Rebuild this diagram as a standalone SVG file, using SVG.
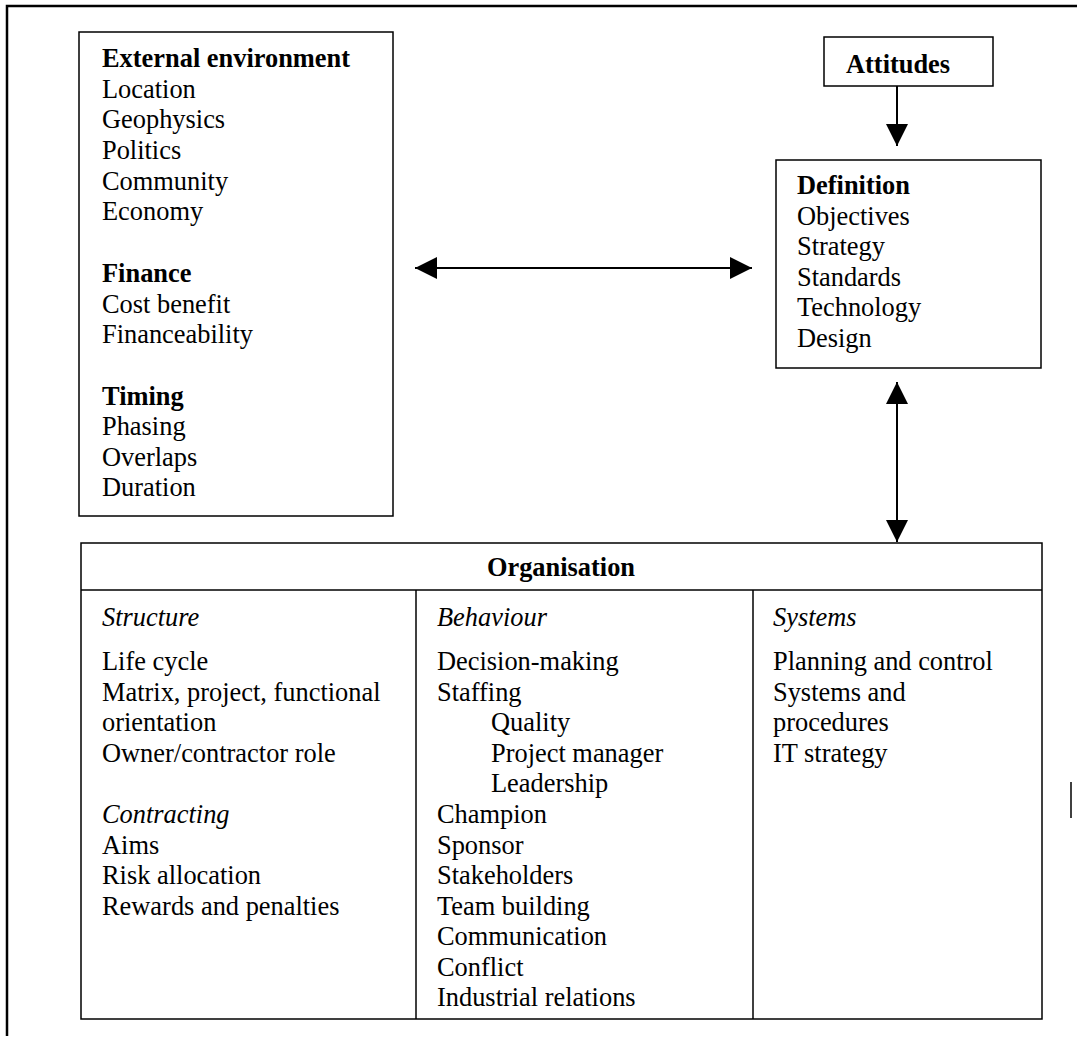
<svg xmlns="http://www.w3.org/2000/svg" width="1078" height="1042" viewBox="0 0 1078 1042">
  <style>
    .box { fill: #ffffff; stroke: #000000; stroke-width: 1.5; }
    .frame { fill: none; stroke: #000000; stroke-width: 2.5; }
    .rule { fill: none; stroke: #000000; stroke-width: 1.5; }
    .conn { fill: none; stroke: #000000; stroke-width: 2; }
    text { font-family: "Liberation Serif", "Times New Roman", serif; font-size: 26.4px; fill: #000000; }
    .b { font-weight: bold; }
    .i { font-style: italic; }
  </style>
  <defs>
    <marker id="head" viewBox="0 0 22 22" refX="22" refY="11" markerWidth="22" markerHeight="22" markerUnits="userSpaceOnUse" orient="auto-start-reverse">
      <path d="M0,0 L22,11 L0,22 Z" fill="#000000"/>
    </marker>
  </defs>

  <rect width="1078" height="1042" fill="#ffffff"/>

  <!-- outer frame -->
  <g id="frame">
    <path class="frame" d="M7,1036 L7,6 L1077,6"/>
    <path class="rule" d="M1071,782 L1071,818"/>
  </g>

  <!-- external environment, finance, timing -->
  <g id="external">
    <rect class="box" x="79" y="32" width="314" height="484"/>
    <text x="102" y="67" class="b">External environment</text>
    <text x="102" y="98">Location</text>
    <text x="102" y="128">Geophysics</text>
    <text x="102" y="159">Politics</text>
    <text x="102" y="190">Community</text>
    <text x="102" y="220">Economy</text>
    <text x="102" y="282" class="b">Finance</text>
    <text x="102" y="313">Cost benefit</text>
    <text x="102" y="343">Financeability</text>
    <text x="102" y="405" class="b">Timing</text>
    <text x="102" y="435">Phasing</text>
    <text x="102" y="466">Overlaps</text>
    <text x="102" y="496">Duration</text>
  </g>

  <!-- attitudes -->
  <g id="attitudes">
    <rect class="box" x="824" y="37" width="169" height="49"/>
    <text x="846" y="73" class="b">Attitudes</text>
  </g>

  <!-- definition -->
  <g id="definition">
    <rect class="box" x="776" y="160" width="265" height="208"/>
    <text x="797" y="194" class="b">Definition</text>
    <text x="797" y="225">Objectives</text>
    <text x="797" y="255">Strategy</text>
    <text x="797" y="286">Standards</text>
    <text x="797" y="316">Technology</text>
    <text x="797" y="347">Design</text>
  </g>

  <!-- organisation table -->
  <g id="organisation">
    <rect class="box" x="81" y="543" width="961" height="476"/>
    <line class="rule" x1="81" y1="590" x2="1042" y2="590"/>
    <line class="rule" x1="416" y1="590" x2="416" y2="1019"/>
    <line class="rule" x1="753" y1="590" x2="753" y2="1019"/>
    <text x="561" y="576" class="b" text-anchor="middle">Organisation</text>

    <text x="102" y="626" class="i">Structure</text>
    <text x="102" y="670">Life cycle</text>
    <text x="102" y="701">Matrix, project, functional</text>
    <text x="102" y="731">orientation</text>
    <text x="102" y="762">Owner/contractor role</text>
    <text x="102" y="823" class="i">Contracting</text>
    <text x="102" y="854">Aims</text>
    <text x="102" y="884">Risk allocation</text>
    <text x="102" y="915">Rewards and penalties</text>

    <text x="437" y="626" class="i">Behaviour</text>
    <text x="437" y="670">Decision-making</text>
    <text x="437" y="701">Staffing</text>
    <text x="491" y="731">Quality</text>
    <text x="491" y="762">Project manager</text>
    <text x="491" y="792">Leadership</text>
    <text x="437" y="823">Champion</text>
    <text x="437" y="854">Sponsor</text>
    <text x="437" y="884">Stakeholders</text>
    <text x="437" y="915">Team building</text>
    <text x="437" y="945">Communication</text>
    <text x="437" y="976">Conflict</text>
    <text x="437" y="1006">Industrial relations</text>

    <text x="773" y="626" class="i">Systems</text>
    <text x="773" y="670">Planning and control</text>
    <text x="773" y="701">Systems and</text>
    <text x="773" y="731">procedures</text>
    <text x="773" y="762">IT strategy</text>
  </g>

  <!-- connectors -->
  <g id="connectors">
    <line class="conn" x1="897" y1="86" x2="897" y2="146" marker-end="url(#head)"/>
    <line class="conn" x1="415" y1="268" x2="752" y2="268" marker-start="url(#head)" marker-end="url(#head)"/>
    <line class="conn" x1="897" y1="382" x2="897" y2="542" marker-start="url(#head)" marker-end="url(#head)"/>
  </g>
</svg>
